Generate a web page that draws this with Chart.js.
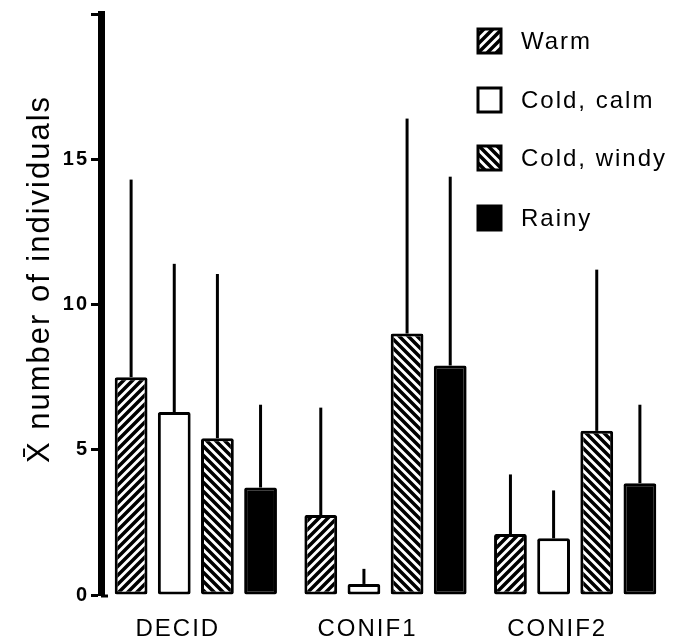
<!DOCTYPE html>
<html>
<head>
<meta charset="utf-8">
<script src="https://cdn.jsdelivr.net/npm/chart.js@4.4.1/dist/chart.umd.min.js"></script>
<style>
  html, body { margin: 0; padding: 0; background: #fff; }
  #wrap { width: 679px; height: 643px; }
</style>
</head>
<body>
<div id="wrap"><canvas id="c" width="679" height="643"></canvas></div>
<script>
// ---- data ----
const categories = ['DECID', 'CONIF1', 'CONIF2'];
const seriesNames = ['Warm', 'Cold, calm', 'Cold, windy', 'Rainy'];
const warmMean = [7.5, 2.75, 2.1];
const calmMean = [6.3, 0.38, 1.95];
const windyMean = [5.4, 9.0, 5.65];
const rainyMean = [3.7, 7.9, 3.85];
// upper end of the error line (mean + SD)
const warmErrTop = [14.3, 6.45, 4.15];
const calmErrTop = [11.4, 0.9, 3.6];
const windyErrTop = [11.05, 16.4, 11.2];
const rainyErrTop = [6.55, 14.4, 6.55];
const yTicks = [0, 5, 10, 15];
const yMax = 20;
const yTitle = 'X\u0304 number of individuals';

const FONT = '"Liberation Sans", Arial, Helvetica, sans-serif';

function makeHatch(dir) {
  const s = 9;
  const c = document.createElement('canvas');
  c.width = s; c.height = s;
  const g = c.getContext('2d');
  g.fillStyle = '#fff'; g.fillRect(0, 0, s, s);
  g.strokeStyle = '#000'; g.lineWidth = 3.5; g.lineCap = 'square';
  g.beginPath();
  if (dir === '/') {
    g.moveTo(0, s); g.lineTo(s, 0);
    g.moveTo(-s / 2, s / 2); g.lineTo(s / 2, -s / 2);
    g.moveTo(s / 2, s * 1.5); g.lineTo(s * 1.5, s / 2);
  } else {
    g.moveTo(0, 0); g.lineTo(s, s);
    g.moveTo(-s / 2, s / 2); g.lineTo(s / 2, s * 1.5);
    g.moveTo(s / 2, -s / 2); g.lineTo(s * 1.5, s / 2);
  }
  g.stroke();
  return document.createElement('canvas').getContext('2d').createPattern(c, 'repeat');
}

const fills = [makeHatch('/'), '#ffffff', makeHatch('\\'), '#000000'];
const means = [warmMean, calmMean, windyMean, rainyMean];
const errTops = [warmErrTop, calmErrTop, windyErrTop, rainyErrTop];

const datasets = seriesNames.map((name, i) => ({
  label: name,
  data: means[i],
  errTop: errTops[i],
  backgroundColor: fills[i],
  borderColor: '#000',
  borderWidth: 3,
  borderSkipped: false,
  borderRadius: 2,
  categoryPercentage: 0.91,
  barPercentage: 0.76
}));

const spacingPlugin = {
  id: 'spacing',
  beforeDraw(chart) { chart.ctx.letterSpacing = '2px'; }
};

const errorPlugin = {
  id: 'errorLines',
  afterDatasetsDraw(chart) {
    const ctx = chart.ctx;
    const y = chart.scales.y;
    ctx.save();
    ctx.strokeStyle = '#000';
    ctx.lineWidth = 3;
    chart.data.datasets.forEach((ds, di) => {
      const meta = chart.getDatasetMeta(di);
      meta.data.forEach((bar, j) => {
        const top = y.getPixelForValue(ds.errTop[j]);
        ctx.beginPath();
        ctx.moveTo(bar.x, bar.y);
        ctx.lineTo(bar.x, top);
        ctx.stroke();
      });
    });
    ctx.restore();
  }
};

const axisExtrasPlugin = {
  id: 'axisExtras',
  afterDraw(chart) {
    const ctx = chart.ctx;
    const y = chart.scales.y;
    const x0 = chart.chartArea.left;
    ctx.save();
    // y-axis title, rotated
    ctx.letterSpacing = '2px';
    ctx.translate(40, 279);
    ctx.rotate(-Math.PI / 2);
    ctx.fillStyle = '#000';
    ctx.font = '31px ' + FONT;
    ctx.textAlign = 'center';
    ctx.textBaseline = 'middle';
    ctx.fillText(yTitle, 0, 0);
    ctx.restore();
    // small foot at the bottom of the y axis
    ctx.save();
    ctx.strokeStyle = '#000';
    ctx.lineWidth = 3;
    const yb = y.getPixelForValue(0) + 1;
    ctx.beginPath();
    ctx.moveTo(x0, yb);
    ctx.lineTo(x0 + 7, yb);
    ctx.stroke();
    ctx.restore();
  }
};

const legendPlugin = {
  id: 'customLegend',
  afterDraw(chart) {
    const ctx = chart.ctx;
    ctx.save();
    ctx.letterSpacing = '2px';
    const bx = 478, bw = 23, bh = 24;
    const centers = [41, 100, 158, 218];
    chart.data.datasets.forEach((ds, i) => {
      const cy = centers[i];
      ctx.fillStyle = ds.backgroundColor;
      ctx.fillRect(bx, cy - bh / 2, bw, bh);
      ctx.strokeStyle = '#000';
      ctx.lineWidth = 3;
      ctx.strokeRect(bx, cy - bh / 2, bw, bh);
      ctx.fillStyle = '#000';
      ctx.font = '24px ' + FONT;
      ctx.textBaseline = 'middle';
      ctx.textAlign = 'left';
      ctx.fillText(ds.label, 521, cy + 1);
    });
    ctx.restore();
  }
};

new Chart(document.getElementById('c'), {
  type: 'bar',
  data: { labels: categories, datasets },
  options: {
    responsive: false,
    animation: false,
    layout: { padding: { top: 5, right: 9, left: 0, bottom: 0 } },
    plugins: { legend: { display: false }, tooltip: { enabled: false } },
    scales: {
      x: {
        grid: { display: false },
        border: { display: false },
        ticks: {
          color: '#000',
          font: { family: FONT, size: 24 },
          padding: 12,
          labelOffset: -18,
          maxRotation: 0
        },
        afterFit(scale) { scale.height = 48; }
      },
      y: {
        min: 0,
        max: yMax,
        afterBuildTicks(scale) {
          scale.ticks = yTicks.concat([yMax]).map(v => ({ value: v }));
        },
        ticks: {
          color: '#000',
          font: { family: FONT, size: 20, weight: 'bold' },
          padding: 2,
          callback: (v) => (yTicks.includes(v) ? String(v) : '')
        },
        grid: {
          display: true,
          drawOnChartArea: false,
          drawTicks: true,
          tickLength: 10,
          tickWidth: 3,
          color: '#000'
        },
        border: { display: true, width: 7, color: '#000' },
        title: { display: false },
        afterFit(scale) { scale.width = 101; }
      }
    }
  },
  plugins: [spacingPlugin, errorPlugin, axisExtrasPlugin, legendPlugin]
});
</script>
</body>
</html>
